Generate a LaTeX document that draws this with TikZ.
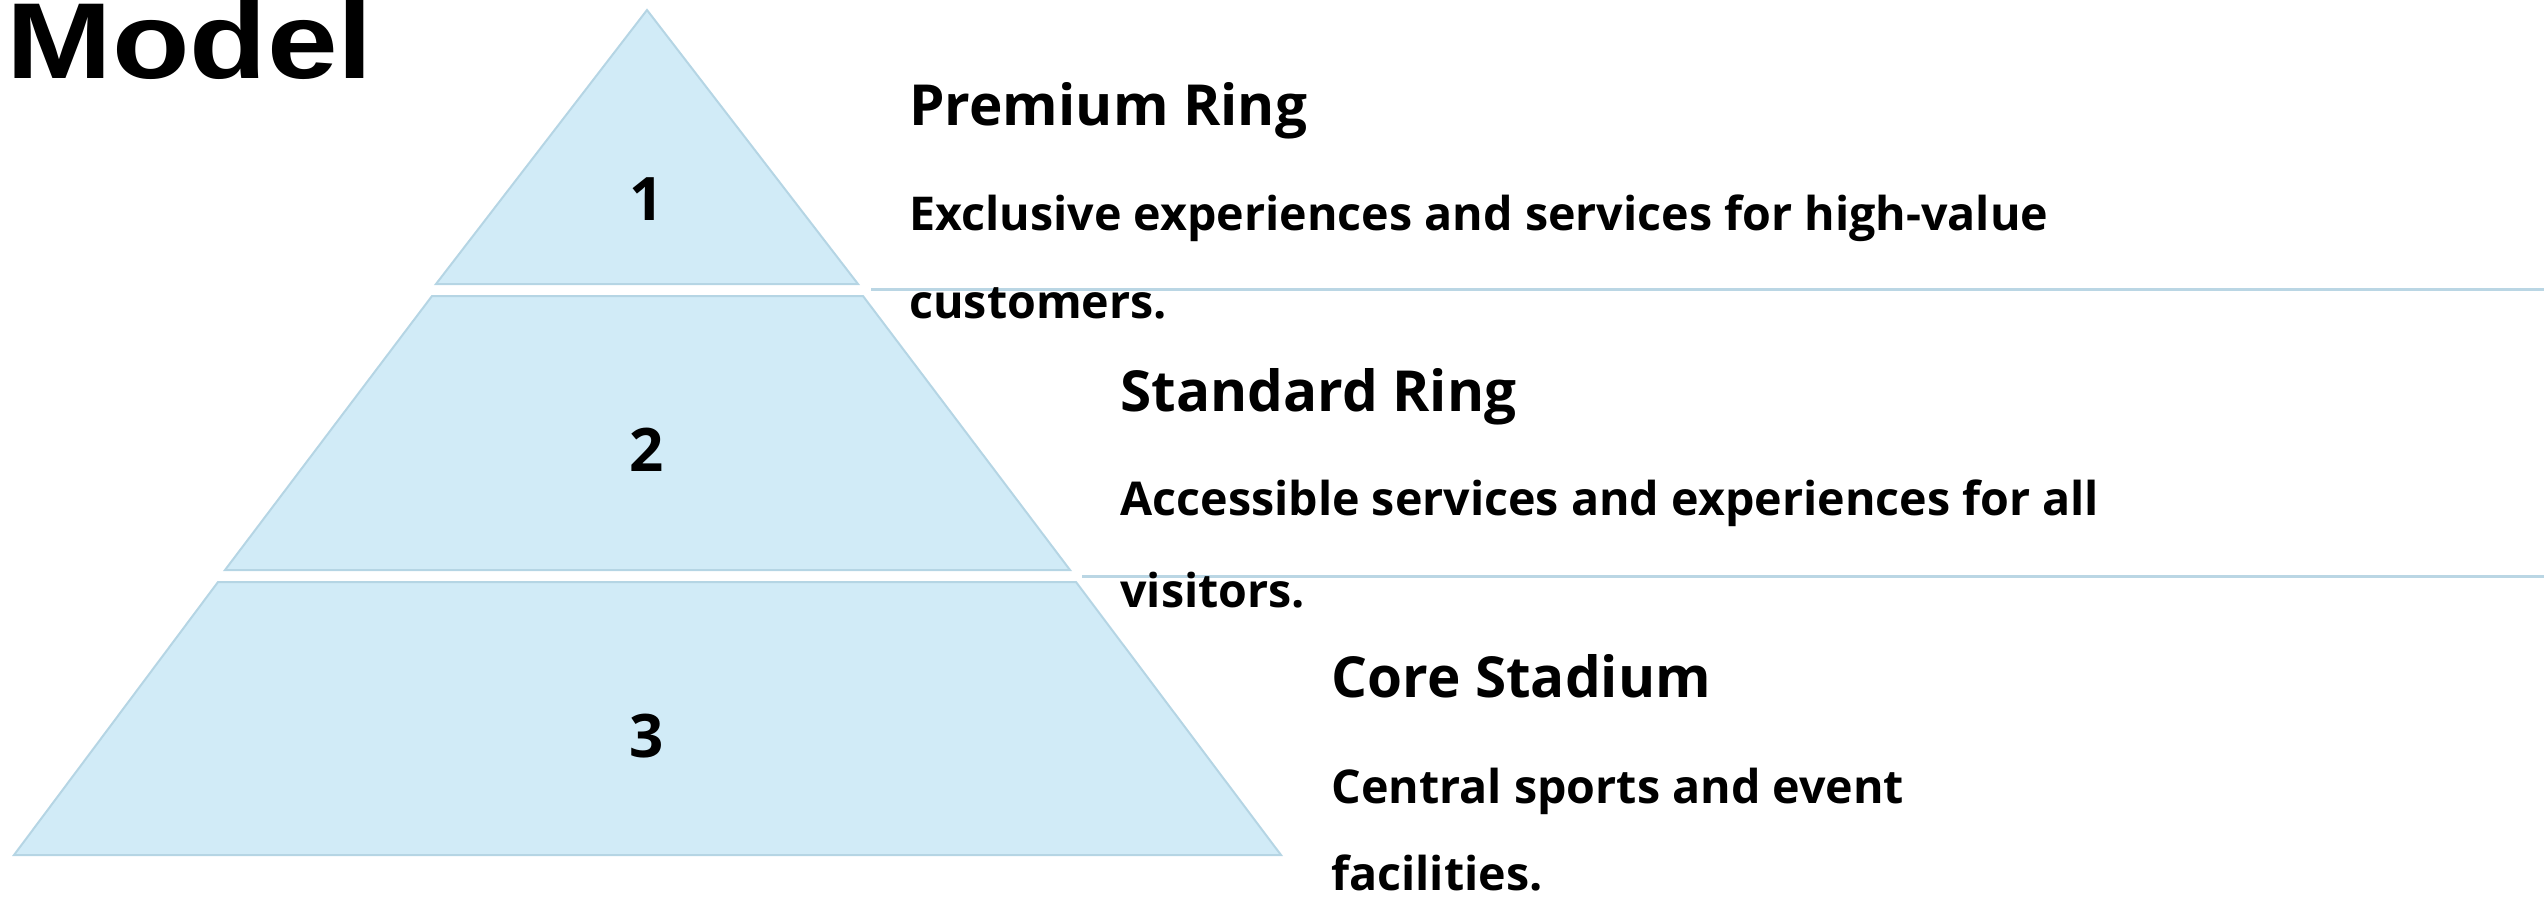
\documentclass[tikz,border=0pt]{standalone}
\usepackage{fontspec}
\setmainfont{Open Sans}
\newfontfamily\titlefont{Liberation Sans}
\definecolor{tierfill}{RGB}{209,235,247}
\definecolor{tieredge}{RGB}{181,213,228}
\definecolor{rulecol}{RGB}{186,214,228}
\tikzset{
  tier/.style={fill=tierfill, draw=tieredge, line width=1pt, line join=miter},
  num/.style={anchor=base, inner sep=0pt, font=\bfseries\fontsize{30}{36}\selectfont},
  head/.style={anchor=base west, inner sep=0pt, font=\bfseries\fontsize{28.3}{34}\selectfont},
  desc/.style={anchor=base west, inner sep=0pt, font=\bfseries\fontsize{23.3}{28}\selectfont},
  rulestyle/.style={draw=rulecol, line width=1.5pt}
}
\begin{document}
\begin{tikzpicture}[x=0.5pt,y=-0.5pt]
\useasboundingbox (0,0) rectangle (2544,900);
% title
\node[anchor=base west, inner sep=0pt, font=\titlefont\bfseries\fontsize{50}{60}\selectfont] (title) at (6,78) {\scalebox{1.27}[1.08]{Model}};
% tiers
\path[tier] (647,10) -- (858,284) -- (436,284) -- cycle;
\path[tier] (432,296) -- (863,296) -- (1070,570) -- (225,570) -- cycle;
\path[tier] (218,582) -- (1076,582) -- (1281,855) -- (14,855) -- cycle;
\node[num] (n1) at (647,220) {1};
\node[num] (n2) at (647,471) {2};
\node[num] (n3) at (647,757) {3};
% rules
\coordinate (r1a) at (871,289);
\coordinate (r1b) at (2544,289);
\coordinate (r2a) at (1082,576);
\coordinate (r2b) at (2544,576);
\draw[rulestyle] (r1a) -- (r1b);
\draw[rulestyle] (r2a) -- (r2b);
% texts
\node[head] (h1) at (909,125) {Premium Ring};
\node[desc] (d1a) at (909,230) {Exclusive experiences and services for high-value};
\node[desc] (d1b) at (909,318) {customers.};
\node[head] (h2) at (1120,411) {Standard Ring};
\node[desc] (d2a) at (1120,515) {Accessible services and experiences for all};
\node[desc] (d2b) at (1120,607) {visitors.};
\node[head] (h3) at (1331,697) {Core Stadium};
\node[desc] (d3a) at (1331,803) {Central sports and event};
\node[desc] (d3b) at (1331,890) {facilities.};
\end{tikzpicture}
\end{document}
